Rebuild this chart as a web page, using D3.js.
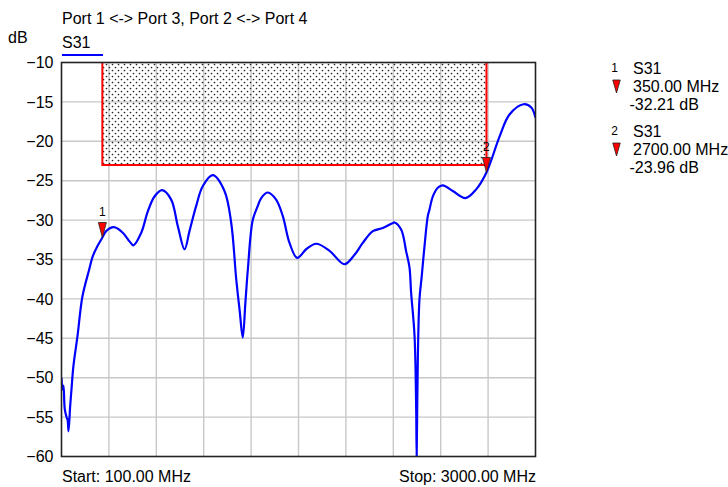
<!DOCTYPE html>
<html><head><meta charset="utf-8">
<script src="https://cdn.jsdelivr.net/npm/d3@7"></script>
<style>
html,body{margin:0;padding:0;background:#fff;}
text{font-family:"Liberation Sans",Arial,Helvetica,sans-serif;}
</style></head>
<body><svg id="c" width="728" height="487"></svg>
<script>
const title = "Port 1 <-> Port 3, Port 2 <-> Port 4";
const traceName = "S31";
const unitLabel = "dB";
const startLabel = "Start: 100.00 MHz";
const stopLabel = "Stop: 3000.00 MHz";
const freqMin = 100, freqMax = 3000;
const yTicks = [-10,-15,-20,-25,-30,-35,-40,-45,-50,-55,-60];
const xGridCount = 10;
const freqMHz = [100,106,112,120,131,137,143,153,161,173,198,228,269,291,320,350,373,420,475,516,540,588,628,669,716,771,812,853,883,924,964,1026,1097,1138,1169,1190,1209,1225,1240,1270,1301,1322,1362,1413,1454,1495,1542,1597,1658,1740,1831,1893,1943,2005,2066,2125,2137,2178,2209,2229,2239,2260,2270,2273,2280,2290,2304,2321,2341,2351,2372,2402,2433,2494,2572,2637,2700,2780,2841,2927,2974,3000];
const s31dB =  [-50.0,-51.5,-51.0,-54.0,-55.0,-55.3,-56.8,-53.6,-51.5,-48.5,-44.7,-39.7,-36.3,-34.6,-33.3,-32.21,-31.4,-30.9,-31.6,-32.7,-33.2,-31.6,-28.9,-27.0,-26.2,-27.4,-30.8,-33.7,-31.4,-28.2,-25.7,-24.3,-26.3,-30.3,-37.5,-41.5,-44.9,-40.5,-36.3,-30.0,-28.2,-27.2,-26.5,-27.4,-29.5,-32.9,-34.8,-33.7,-33.0,-33.9,-35.6,-34.4,-32.9,-31.4,-31.0,-30.4,-30.3,-31.2,-34.0,-36.0,-39.2,-44.7,-54.0,-60.0,-47.7,-40.1,-37.1,-33.3,-29.5,-28.7,-27.0,-25.9,-25.6,-26.3,-27.2,-26.1,-23.96,-19.4,-16.6,-15.3,-15.7,-17.0];
const limitStart = 350, limitStop = 2700, limitTop = -10, limitLevel = -23;
const markerIds = ["1","2"];
const markerFreq = [350, 2700];
const markerVal = [-32.21, -23.96];
const markerFreqText = ["350.00 MHz","2700.00 MHz"];
const markerValText = ["-32.21 dB","-23.96 dB"];

const svg = d3.select("#c");
const L = 61.5, R = 535.5, T = 62.5, B = 456.5;
const x = d3.scaleLinear().domain([freqMin, freqMax]).range([L, R]);
const y = d3.scaleLinear().domain([-60, -10]).range([B, T]);

const defs = svg.append("defs");
const pat = defs.append("pattern").attr("id","dots").attr("patternUnits","userSpaceOnUse")
  .attr("width",6).attr("height",6);
pat.append("circle").attr("cx",1.5).attr("cy",1.5).attr("r",0.85).attr("fill","#222");
pat.append("circle").attr("cx",4.5).attr("cy",4.5).attr("r",0.85).attr("fill","#222");
defs.append("clipPath").attr("id","clip").append("rect").attr("x",L).attr("y",T).attr("width",R-L).attr("height",B-T);

// grid
const xg = d3.range(1, xGridCount).map(i => freqMin + i*(freqMax-freqMin)/xGridCount);
svg.append("g").selectAll("line").data(xg).join("line")
  .attr("x1",d=>x(d)).attr("x2",d=>x(d)).attr("y1",T).attr("y2",B)
  .attr("stroke","#c8c8c8").attr("stroke-width",1.4);
svg.append("g").selectAll("line").data(yTicks.slice(1,-1)).join("line")
  .attr("x1",L).attr("x2",R).attr("y1",d=>y(d)).attr("y2",d=>y(d))
  .attr("stroke","#c8c8c8").attr("stroke-width",1.4);

// y axis labels
const yAxis = d3.axisLeft(y).tickValues(yTicks).tickSize(0).tickPadding(8).tickFormat(d3.format("d"));
const ya = svg.append("g").attr("transform",`translate(${L},0)`).call(yAxis);
ya.select(".domain").remove();
ya.selectAll("text").attr("font-size",16).attr("fill","#000").attr("font-family","Liberation Sans, Arial, sans-serif");

// limit area
svg.append("rect").attr("x",x(limitStart)).attr("y",y(limitTop))
  .attr("width",x(limitStop)-x(limitStart)).attr("height",y(limitLevel)-y(limitTop))
  .attr("fill","url(#dots)");
svg.append("path").attr("d",d3.line()([[x(limitStart),y(limitTop)],[x(limitStart),y(limitLevel)],[x(limitStop),y(limitLevel)],[x(limitStop),y(limitTop)]]))
  .attr("fill","none").attr("stroke","#ff0000").attr("stroke-width",2);

// trace
const pts = freqMHz.map((f,i)=>[f, s31dB[i]]);
svg.append("path").datum(pts).attr("clip-path","url(#clip)")
  .attr("d", d3.line().x(d=>x(d[0])).y(d=>y(d[1])).curve(d3.curveCatmullRom.alpha(0.5)))
  .attr("fill","none").attr("stroke","#0000ff").attr("stroke-width",2.2).attr("stroke-linejoin","round");

// frame
svg.append("rect").attr("x",L).attr("y",T).attr("width",R-L).attr("height",B-T)
  .attr("fill","none").attr("stroke","#222").attr("stroke-width",1.6);

// markers on chart
const tri = (cx, tipY, w, h) => `M${cx-w/2},${tipY-h}L${cx+w/2},${tipY-h}L${cx},${tipY}Z`;
markerIds.forEach((id,i)=>{
  const cx = x(markerFreq[i]), cy = y(markerVal[i]);
  svg.append("path").attr("d",tri(cx,cy,8,15)).attr("fill","#ff0000").attr("stroke","#222").attr("stroke-width",0.8);
  svg.append("text").attr("x",cx).attr("y",cy-22).attr("text-anchor","middle").attr("font-size",12).text(id);
});

// legend
const lx = 633;
const ly = [74, 137];
markerIds.forEach((id,i)=>{
  const b = ly[i];
  svg.append("text").attr("x",614.5).attr("y",b-2).attr("text-anchor","middle").attr("font-size",12).text(id);
  svg.append("text").attr("x",lx).attr("y",b).attr("font-size",16).text(traceName);
  svg.append("path").attr("d",tri(616.5,b+19,7.5,13)).attr("fill","#ff0000").attr("stroke","#222").attr("stroke-width",0.8);
  svg.append("text").attr("x",lx).attr("y",b+18).attr("font-size",16).text(markerFreqText[i]);
  svg.append("text").attr("x",lx-3.5).attr("y",b+36).attr("font-size",16).text(markerValText[i]);
});

// texts
svg.append("text").attr("x",62).attr("y",24).attr("font-size",16).text(title);
svg.append("text").attr("x",8).attr("y",43).attr("font-size",16).text(unitLabel);
svg.append("text").attr("x",62).attr("y",48).attr("font-size",16).text(traceName);
svg.append("line").attr("x1",62).attr("x2",103).attr("y1",55).attr("y2",55).attr("stroke","#0000ff").attr("stroke-width",2);
svg.append("text").attr("x",62).attr("y",482).attr("font-size",16).text(startLabel);
svg.append("text").attr("x",536).attr("y",482).attr("text-anchor","end").attr("font-size",16).text(stopLabel);
</script></body></html>
